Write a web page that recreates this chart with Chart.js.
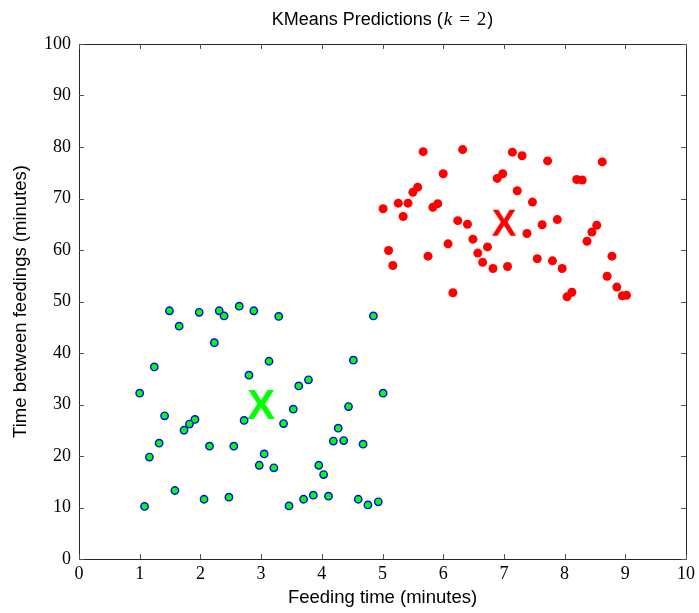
<!DOCTYPE html>
<html><head><meta charset="utf-8">
<script src="https://cdn.jsdelivr.net/npm/chart.js@4/dist/chart.umd.min.js"></script>
<style>html,body{margin:0;padding:0;background:#fff}</style>
</head><body>
<canvas id="c" width="699" height="613"></canvas>
<script>
// Cluster 0 (green) points
const greenX = [1.49,1.98,2.31,2.39,2.64,2.88,3.29,4.85,1.65,2.23,1.24,3.13,4.52,2.80,3.78,3.62,1.00,5.01,3.53,4.44,1.41,1.91,1.82,1.73,2.72,3.37,4.27,4.19,4.36,4.68,1.32,2.15,2.55,1.16,3.05,2.97,3.21,3.95,4.03,1.58,2.06,2.47,1.08,3.46,3.70,3.86,4.11,4.60,4.76,4.93];
const greenY = [48.2,47.9,48.2,47.2,49.1,48.2,47.1,47.2,45.2,42.0,37.3,38.4,38.6,35.7,34.8,33.6,32.2,32.2,29.1,29.6,27.8,27.1,26.2,25.0,26.9,26.3,25.4,22.9,23.0,22.3,22.5,21.9,21.9,19.8,20.4,18.2,17.7,18.2,16.4,13.3,11.6,12.0,10.2,10.3,11.6,12.4,12.2,11.6,10.5,11.1];
// Cluster 1 (red) points
const redX = [5.67,6.32,7.14,7.30,6.00,6.98,6.89,5.58,5.50,7.22,5.26,5.42,5.91,5.83,5.01,5.34,6.24,6.40,7.47,6.49,6.08,6.73,6.57,5.10,5.75,6.65,5.17,6.82,7.06,6.16,7.38,7.72,8.62,8.20,8.29,7.88,7.63,8.53,8.45,8.37,8.78,7.55,7.80,7.96,8.70,8.86,8.12,8.04,8.95,9.02];
const redY = [79.1,79.5,79.0,78.3,74.8,74.8,73.9,72.2,71.2,71.5,69.1,69.1,69.0,68.3,68.0,66.5,65.7,65.0,69.3,62.1,61.2,60.6,59.4,59.9,58.8,57.6,57.0,56.4,56.8,51.7,63.2,77.3,77.1,73.7,73.6,65.9,64.9,64.8,63.5,61.7,58.8,58.3,57.9,56.4,54.9,52.8,51.8,50.9,51.1,51.2];
// Centroids
const centroidX = [3.00, 7.00];
const centroidY = [30.1, 65.3];
const xTicks = [0,1,2,3,4,5,6,7,8,9,10];
const yTicks = [0,10,20,30,40,50,60,70,80,90,100];

function zip(xs, ys){ return xs.map((x,i)=>({x:x, y:ys[i]})); }

function makeX(color, size){
  const c = document.createElement('canvas');
  c.width = 48; c.height = 48;
  const g = c.getContext('2d');
  g.fillStyle = color;
  g.font = 'bold ' + size + 'px "Liberation Sans", Arial, sans-serif';
  g.textAlign = 'center';
  g.textBaseline = 'alphabetic';
  g.fillText('X', 24, 24 + size * 0.729 / 2);
  return c;
}

const framePlugin = {
  id: 'frame',
  afterDraw(chart){
    const ctx = chart.ctx, a = chart.chartArea;
    const xs = chart.scales.x, ys = chart.scales.y;
    ctx.save();
    ctx.strokeStyle = '#262626';
    ctx.lineWidth = 1;
    ctx.beginPath();
    ctx.rect(Math.round(a.left)+0.5, Math.round(a.top)+0.5, Math.round(a.right-a.left), Math.round(a.bottom-a.top));
    ctx.stroke();
    ctx.strokeStyle = '#555';
    ctx.beginPath();
    xTicks.forEach(v=>{
      const px = Math.round(xs.getPixelForValue(v))+0.5;
      ctx.moveTo(px, a.bottom); ctx.lineTo(px, a.bottom-5);
      ctx.moveTo(px, a.top); ctx.lineTo(px, a.top+5);
    });
    yTicks.forEach(v=>{
      const py = Math.round(ys.getPixelForValue(v))+0.5;
      ctx.moveTo(a.left, py); ctx.lineTo(a.left+5, py);
      ctx.moveTo(a.right, py); ctx.lineTo(a.right-5, py);
    });
    ctx.stroke();
    // Title with mixed fonts
    const sans = '18px "Liberation Sans", Arial, sans-serif';
    const serif = '19px "Liberation Serif", serif';
    const parts = [
      {t:'KMeans Predictions (', f:sans, gap:1},
      {t:'k', f:'italic ' + serif, gap:7},
      {t:'=', f:serif, gap:7},
      {t:'2', f:serif, gap:1},
      {t:')', f:sans, gap:0}
    ];
    let total = 0;
    parts.forEach(p=>{ ctx.font = p.f; p.w = ctx.measureText(p.t).width; total += p.w + p.gap; });
    let x = (a.left + a.right)/2 - total/2;
    ctx.fillStyle = '#000';
    ctx.textBaseline = 'alphabetic';
    ctx.textAlign = 'left';
    parts.forEach(p=>{ ctx.font = p.f; ctx.fillText(p.t, x, 25); x += p.w + p.gap; });
    ctx.restore();
  }
};

new Chart(document.getElementById('c'), {
  type: 'scatter',
  data: {
    datasets: [
      {data: zip(greenX, greenY), backgroundColor:'#00ff00', borderColor:'#0000ff', borderWidth:1.4, pointRadius:3.7},
      {data: zip(redX, redY), backgroundColor:'#ff0000', borderColor:'#ff0000', borderWidth:0, pointRadius:4.5},
      {data: [{x:centroidX[0], y:centroidY[0]}], pointStyle: makeX('#00ff00', 42), pointRadius:24},
      {data: [{x:centroidX[1], y:centroidY[1]}], pointStyle: makeX('#ff0000', 37), pointRadius:24}
    ]
  },
  options: {
    responsive: false,
    animation: false,
    events: [],
    layout: {autoPadding: false, padding: {top: 44, right: 13, left: 0, bottom: 0}},
    plugins: {legend:{display:false}, tooltip:{enabled:false}, title:{display:false}},
    scales: {
      x: {
        type:'linear', min:0, max:10,
        afterBuildTicks(s){ s.ticks = xTicks.map(v=>({value:v})); },
        ticks:{font:{family:'"Liberation Serif", serif', size:18}, color:'#000', padding:4, maxRotation:0, autoSkip:false},
        grid:{display:false, drawTicks:false},
        border:{display:false},
        title:{display:true, text:'Feeding time (minutes)', font:{family:'"Liberation Sans", Arial, sans-serif', size:18.5}, color:'#000', padding:{top:2, bottom:4}},
        afterFit(s){ s.height = 54; s.paddingLeft = 0; s.paddingRight = 0; }
      },
      y: {
        type:'linear', min:0, max:100,
        afterBuildTicks(s){ s.ticks = yTicks.map(v=>({value:v})); },
        ticks:{font:{family:'"Liberation Serif", serif', size:18}, color:'#000', padding:8, autoSkip:false},
        grid:{display:false, drawTicks:false},
        border:{display:false},
        title:{display:true, text:'Time between feedings (minutes)', font:{family:'"Liberation Sans", Arial, sans-serif', size:18.5}, color:'#000', padding:{top:10, bottom:0}},
        afterFit(s){ s.width = 79; s.paddingTop = 0; s.paddingBottom = 0; }
      }
    }
  },
  plugins: [framePlugin]
});
</script>
</body></html>
